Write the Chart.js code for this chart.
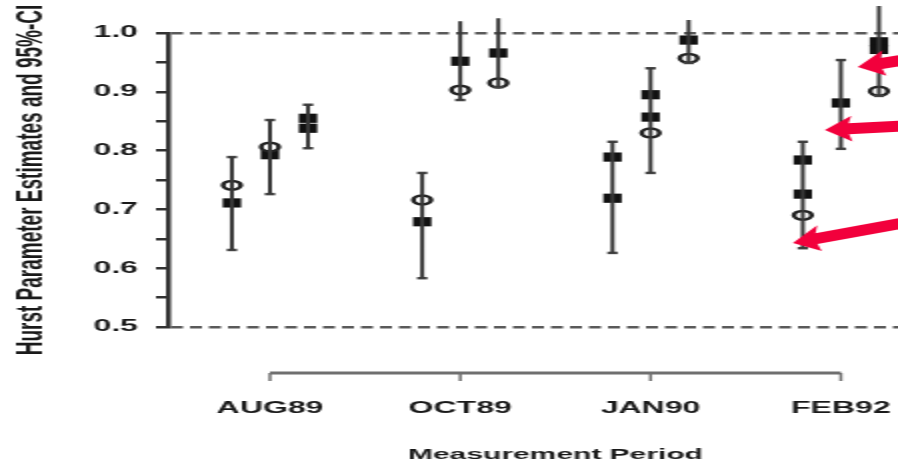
<!DOCTYPE html>
<html>
<head>
<meta charset="utf-8">
<script src="https://cdn.jsdelivr.net/npm/chart.js@4/dist/chart.umd.min.js"></script>
<style>
  html, body { margin: 0; padding: 0; background: #fff; }
  #hurstChart { display: block; }
</style>
</head>
<body>
<canvas id="hurstChart" width="449" height="464" style="width:898px;height:464px"></canvas>
<script>
// measurement periods, three estimates per period
const periods = ['AUG89', 'OCT89', 'JAN90', 'FEB92'];
const slotOffsets = [-0.2, 0, 0.2];

// 95% confidence interval ends, per period and estimate
const ciLow = [
  [0.631, 0.726, 0.804],
  [0.583, 0.886, 0.908],
  [0.626, 0.762, 0.949],
  [0.634, 0.803, 0.893]
];
const ciHigh = [
  [0.789, 0.852, 0.878],
  [0.762, 1.020, 1.025],
  [0.815, 0.940, 1.022],
  [0.815, 0.954, 1.046]
];

// point estimates (filled squares / open circles)
const filledEst = [
  [[0.711], [0.793], [0.855, 0.838]],
  [[0.679], [0.952], [0.966]],
  [[0.789, 0.719], [0.895, 0.857], [0.988]],
  [[0.784, 0.726], [0.881], [0.985, 0.972]]
];
const openEst = [
  [[0.741], [0.806], []],
  [[0.716], [0.903], [0.915]],
  [[], [0.830], [0.957]],
  [[0.690], [], [0.901]]
];

const yTicks = [0.5, 0.55, 0.6, 0.65, 0.7, 0.75, 0.8, 0.85, 0.9, 0.95, 1.0];
const xTitle = 'Measurement Period';

// red pointers on the FEB92 estimates (data units)
const arrowTips  = [{ x: 4.089, y: 0.942 }, { x: 3.916, y: 0.835 }, { x: 3.748, y: 0.643 }];
const arrowTails = [{ x: 4.33, y: 0.954 }, { x: 4.33, y: 0.842 }, { x: 4.33, y: 0.677 }];

const whiskers = [];
const caps = [];
const filledPts = [];
const openPts = [];
periods.forEach((p, g) => {
  slotOffsets.forEach((off, s) => {
    const x = g + 1 + off;
    whiskers.push({ x, y: ciLow[g][s] }, { x, y: ciHigh[g][s] }, { x, y: null });
    caps.push({ x, y: ciLow[g][s] }, { x, y: ciHigh[g][s] });
    filledEst[g][s].forEach(v => filledPts.push({ x, y: v }));
    openEst[g][s].forEach(v => openPts.push({ x, y: v }));
  });
});

const ink = '#1a1a1a';
const labelFont = { family: 'Liberation Sans, Arial, sans-serif', size: 16, weight: 'bold' };

// bracket under the plot, its title, and the arrows
const extras = {
  id: 'extras',
  afterDraw(chart) {
    const { ctx, chartArea } = chart;
    const xs = chart.scales.x, ys = chart.scales.y;

    const yb = chartArea.bottom + 46;
    const x0 = xs.getPixelForValue(1), x1 = xs.getPixelForValue(periods.length);
    ctx.save();
    ctx.strokeStyle = '#6f6f6f';
    ctx.lineWidth = 3;
    ctx.beginPath();
    ctx.moveTo(x0, yb);
    ctx.lineTo(x1, yb);
    ctx.stroke();
    ctx.lineWidth = 1.5;
    periods.forEach((p, i) => {
      const x = xs.getPixelForValue(i + 1);
      ctx.beginPath();
      ctx.moveTo(x, yb);
      ctx.lineTo(x, yb + 8);
      ctx.stroke();
    });

    // axis title centred under the bracket
    ctx.fillStyle = ink;
    ctx.font = `bold 15px ${labelFont.family}`;
    ctx.textAlign = 'center';
    ctx.textBaseline = 'middle';
    ctx.fillText(xTitle, (x0 + x1) / 2, chart.height - 9);
    ctx.restore();

    // arrows drawn at 1:1 on screen
    ctx.save();
    ctx.scale(0.5, 1);
    ctx.fillStyle = '#f2003c';
    arrowTips.forEach((tip, i) => {
      const tx = xs.getPixelForValue(tip.x) * 2, ty = ys.getPixelForValue(tip.y);
      const sx = xs.getPixelForValue(arrowTails[i].x) * 2, sy = ys.getPixelForValue(arrowTails[i].y);
      const len = Math.hypot(sx - tx, sy - ty);
      const dx = (sx - tx) / len, dy = (sy - ty) / len;
      const nx = -dy, ny = dx;
      const hl = 27, hw = 13, sw = 5.5;
      const bx = tx + dx * hl, by = ty + dy * hl;
      ctx.beginPath();
      ctx.moveTo(tx, ty);
      ctx.lineTo(bx + nx * hw, by + ny * hw);
      ctx.lineTo(bx - dx * 3 + nx * sw, by - dy * 3 + ny * sw);
      ctx.lineTo(sx + nx * sw, sy + ny * sw);
      ctx.lineTo(sx - nx * sw, sy - ny * sw);
      ctx.lineTo(bx - dx * 3 - nx * sw, by - dy * 3 - ny * sw);
      ctx.lineTo(bx - nx * hw, by - ny * hw);
      ctx.closePath();
      ctx.fill();
    });
    ctx.restore();
  }
};

new Chart(document.getElementById('hurstChart').getContext('2d'), {
  type: 'scatter',
  data: {
    datasets: [
      {
        data: whiskers,
        showLine: true,
        spanGaps: false,
        borderColor: '#383838',
        borderWidth: 2,
        pointRadius: 0,
        clip: false
      },
      {
        data: caps,
        pointStyle: 'line',
        pointRadius: 2.6,
        borderColor: '#444',
        borderWidth: 2.5,
        clip: false
      },
      {
        data: openPts,
        pointStyle: 'circle',
        pointRadius: 4.4,
        backgroundColor: '#fff',
        borderColor: '#222',
        borderWidth: 2.5,
        clip: false
      },
      {
        data: filledPts,
        pointStyle: 'rect',
        pointRadius: 6.5,
        backgroundColor: '#111',
        borderColor: '#111',
        borderWidth: 0,
        clip: false
      }
    ]
  },
  options: {
    responsive: false,
    devicePixelRatio: 1,
    animation: false,
    events: [],
    layout: { autoPadding: false, padding: { top: 33, right: 0, bottom: 0, left: 0 } },
    plugins: {
      legend: { display: false },
      tooltip: { enabled: false }
    },
    scales: {
      x: {
        type: 'linear',
        min: 0.464,
        max: 4.30,
        afterBuildTicks: s => { s.ticks = periods.map((p, i) => ({ value: i + 1 })); },
        afterFit: s => { s.height = 137; },
        // invisible tick marks push the labels down below the bracket
        grid: { display: true, drawOnChartArea: false, drawTicks: true, tickLength: 72, tickColor: 'rgba(0,0,0,0)' },
        border: { display: false },
        ticks: {
          padding: 0,
          color: ink,
          font: labelFont,
          callback: v => periods[v - 1]
        },
        title: { display: false }
      },
      y: {
        min: 0.5,
        max: 1.0,
        afterBuildTicks: s => { s.ticks = yTicks.map(v => ({ value: v })); },
        afterFit: s => { s.width = 84; },
        grid: {
          color: c => (c.tick && (c.tick.value === 0.5 || c.tick.value === 1.0)) ? '#5a5a5a' : 'rgba(0,0,0,0)',
          lineWidth: 2.5,
          tickColor: '#333',
          tickLength: 6,
          tickWidth: 2.5
        },
        border: { display: true, color: '#333', width: 2.5, dash: [6, 3.5] },
        ticks: {
          padding: 9,
          color: ink,
          font: labelFont,
          callback: (v, i) => (i % 2 === 0 ? v.toFixed(1) : '')
        },
        title: {
          display: true,
          text: 'Hurst Parameter Estimates and 95%-CI',
          color: ink,
          padding: { top: 4, bottom: 0 },
          font: { family: 'Liberation Sans, Arial, sans-serif', size: 19, weight: 'bold' }
        }
      }
    }
  },
  plugins: [extras]
});
</script>
</body>
</html>
